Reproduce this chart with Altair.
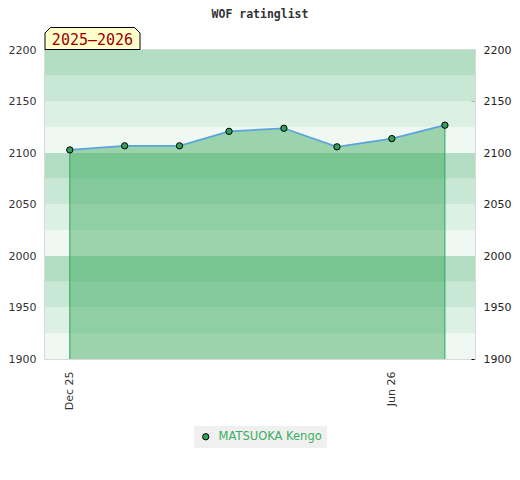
import altair as alt
import pandas as pd

# ---- data ----
chart_title = "WOF ratinglist"
season_label = "2025–2026"
player = "MATSUOKA Kengo"
dates = [
    "2025-12-01T00:00:00", "2026-01-01T00:00:00", "2026-02-01T00:00:00",
    "2026-03-01T00:00:00", "2026-04-01T00:00:00", "2026-05-01T00:00:00",
    "2026-06-01T00:00:00", "2026-07-01T00:00:00",
]
ratings = [2103, 2107, 2107, 2121, 2124, 2106, 2114, 2127]

y_min, y_max = 1900, 2200
y_label_values = [1900, 1950, 2000, 2050, 2100, 2150, 2200]
y_minor_ticks = list(range(1900, 2201, 10))

band_lo = [1900, 1925, 1950, 1975, 2000, 2025, 2050, 2075, 2100, 2125, 2150, 2175]
band_hi = [1925, 1950, 1975, 2000, 2025, 2050, 2075, 2100, 2125, 2150, 2175, 2200]
band_col = ["#eff8f2", "#ddf0e4", "#c9e7d5", "#b3dec4"] * 3

# ---- tables ----
df = pd.DataFrame({"date": dates, "rating": ratings, "player": player, "base": y_min})
ends = df.iloc[[0, len(df) - 1]]
bands = pd.DataFrame({"lo": band_lo, "hi": band_hi, "col": band_col})
lab = pd.DataFrame({"label": [season_label]})

x_scale = alt.Scale(domain=[alt.DateTime(year=2025, month=11, date=17),
                            alt.DateTime(year=2026, month=7, date=18)])
y_scale = alt.Scale(domain=[y_min, y_max], nice=False, zero=False)

x_axis = alt.Axis(
    values=[alt.DateTime(year=2025, month=12, date=1), alt.DateTime(year=2026, month=6, date=1)],
    format="%b %y", labelAngle=270, labelFont="DejaVu Sans", labelFontSize=11,
    labelColor="#333", ticks=False, tickSize=0, domain=False, grid=False,
    labelPadding=12, title=None,
)
X = alt.X("date:T", scale=x_scale, axis=x_axis)
Xn = alt.X("date:T", scale=x_scale)

left_axis = alt.Axis(orient="left", values=y_label_values, format="d", labelFont="DejaVu Sans",
                     labelFontSize=11, labelColor="#333", ticks=False, tickSize=0,
                     domain=False, grid=False, labelPadding=9, title=None)
right_axis = alt.Axis(orient="right", values=y_minor_ticks, format="d",
                      labelExpr="datum.value % 50 === 0 ? datum.label : ''",
                      labelOverlap=False, labelFont="DejaVu Sans", labelFontSize=11,
                      labelColor="#222", tickSize=3, tickColor="black", offset=-4,
                      domain=False, grid=False, labelPadding=9, title=None)

bands_layer = alt.Chart(bands).mark_rect().encode(
    x=alt.value(0), x2=alt.value("width"),
    y=alt.Y("lo:Q", scale=y_scale, axis=left_axis), y2="hi:Q",
    fill=alt.Fill("col:N", scale=None),
)

area = alt.Chart(df).mark_area(color="#34a656", opacity=0.45).encode(
    x=X, y=alt.Y("rating:Q", scale=y_scale, axis=None), y2="base:Q")

rules = alt.Chart(ends).mark_rule(color="#2fa65a", strokeWidth=1).encode(
    x=Xn, y=alt.Y("rating:Q", scale=y_scale, axis=None), y2="base:Q")

line = alt.Chart(df).mark_line(color="#5ca3dc", strokeWidth=1.7).encode(
    x=Xn, y=alt.Y("rating:Q", scale=y_scale, axis=None))

points = alt.Chart(df).mark_point(filled=True, size=40, stroke="black",
                                  strokeWidth=1, opacity=1).encode(
    x=Xn,
    y=alt.Y("rating:Q", scale=y_scale, axis=right_axis),
    color=alt.Color("player:N", scale=alt.Scale(range=["#32a05a"]),
                    legend=alt.Legend(title=None, orient="none", legendX=149, legendY=376,
                                      fillColor="#f0f0f0", padding=5, symbolSize=40,
                                      symbolType="circle", symbolStrokeColor="black",
                                      symbolStrokeWidth=1, symbolOffset=1, labelOffset=7,
                                      labelColor="#3cae5f", labelFont="DejaVu Sans",
                                      labelFontSize=11.5)),
)

box_path = "M -1 0.2316 L -1 -0.1158 L -0.8842 -0.2316 L 0.8842 -0.2316 L 1 -0.1158 L 1 0.2316 Z"
box = alt.Chart(lab).mark_point(shape=box_path, size=9025, filled=True, fill="#ffffcc",
                                stroke="black", strokeWidth=1, opacity=1).encode(
    x=alt.value(47.5), y=alt.value(-11.5))
box_text = alt.Chart(lab).mark_text(font="DejaVu Sans Mono", fontSize=15, color="#990000",
                                    align="center", baseline="middle").encode(
    x=alt.value(47.5), y=alt.value(-10.5), text="label:N")

chart = alt.layer(bands_layer, area, rules, line, points, box, box_text).resolve_scale(
    y="independent"
).properties(
    width=430, height=309,
    autosize=alt.AutoSizeParams(type="none"),
    padding={"left": 37, "top": 42, "right": 37, "bottom": 110},
    title=alt.TitleParams(text=chart_title, font="DejaVu Sans Mono", fontSize=11.5,
                          fontWeight="bold", color="#333", anchor="middle", offset=5),
).configure_view(stroke="#d9d9d9", strokeWidth=2)

chart.save("out.html", embed_options={"renderer": "svg", "actions": False})
